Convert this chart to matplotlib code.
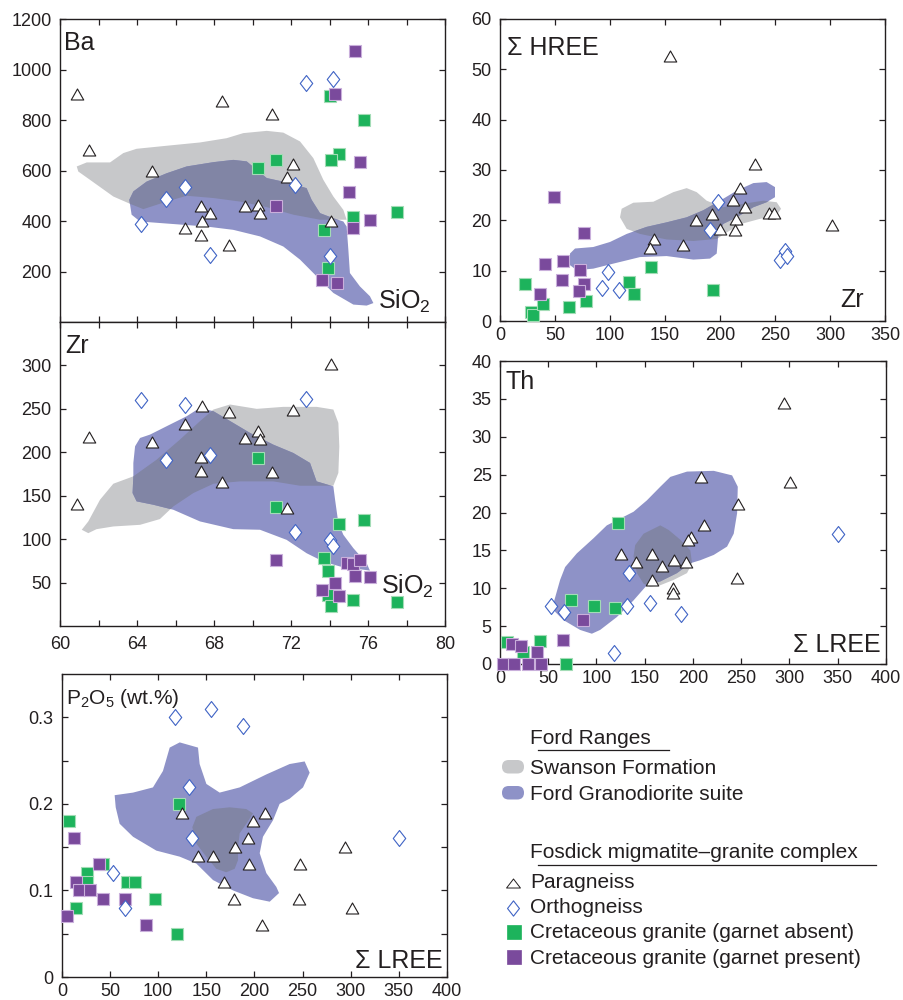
import matplotlib
matplotlib.use('Agg')
import matplotlib.pyplot as plt
from matplotlib.patches import Polygon, FancyBboxPatch
from matplotlib.lines import Line2D
from matplotlib.path import Path

plt.rcParams['font.family'] = ['Liberation Sans', 'DejaVu Sans']
plt.rcParams['mathtext.fontset'] = 'custom'
plt.rcParams['mathtext.rm'] = 'Liberation Sans'
plt.rcParams['mathtext.it'] = 'Liberation Sans'

GREY = '#c7c8ca'
BLUE = '#8e92c7'
OVERLAP = '#8185a5'
GREEN = '#1db35c'
GREEN_EDGE = '#a3dcb6'
PURPLE = '#7a4a9c'
PURPLE_EDGE = '#c9afdb'
ORTHO_EDGE = '#3f63c5'
INK = '#231f20'

# ---------------------------------------------------------------- Ba vs SiO2
ba_para_x = [60.9, 61.5, 64.8, 68.4, 71.0, 72.1, 71.8, 67.3, 67.8, 67.4, 66.5, 67.3, 68.8, 69.6, 70.3, 70.4, 74.1]
ba_para_y = [902, 683, 599, 877, 823, 626, 574, 458, 430, 401, 373, 344, 306, 459, 462, 430, 401]
ba_ortho_x = [64.2, 65.5, 66.5, 67.8, 72.8, 74.2, 72.2, 74.0]
ba_ortho_y = [388, 487, 533, 266, 946, 963, 543, 260]
ba_gabs_x = [74.0, 75.8, 74.5, 74.1, 71.2, 70.3, 75.2, 77.5, 73.7, 73.9]
ba_gabs_y = [897, 800, 665, 641, 640, 608, 415, 434, 365, 212]
ba_gpres_x = [75.3, 74.3, 75.6, 75.0, 71.2, 76.1, 75.2, 73.6, 74.4]
ba_gpres_y = [1075, 903, 632, 516, 458, 402, 371, 165, 154]

ba_swanson_x = [60.87, 61.39, 62.60, 63.29, 63.98, 65.54, 67.27, 68.66, 69.52, 70.74, 71.60, 72.47, 73.16,
                73.68, 74.20, 74.72, 74.89, 73.51, 72.12, 70.74, 69.35, 67.97, 66.58, 65.54, 64.33, 63.64,
                62.77, 61.56, 60.95]
ba_swanson_y = [616, 632, 632, 669, 686, 698, 711, 728, 748, 757, 750, 715, 649,
                563, 497, 444, 405, 405, 425, 455, 477, 491, 500, 477, 447, 468,
                497, 563, 596]
ba_ford_x = [63.60, 63.81, 64.50, 65.54, 66.58, 67.97, 69.00, 69.70, 70.22, 70.74, 71.95, 72.81, 73.07,
             73.51, 74.20, 74.72, 74.89, 74.98, 75.06, 75.58, 76.10, 76.28, 75.93, 75.24, 74.20, 73.33,
             72.47, 71.60, 70.39, 69.00, 67.62, 66.41, 65.19, 64.16, 63.72]
ba_ford_y = [484, 517, 556, 589, 616, 633, 642, 636, 603, 570, 550, 530, 484,
             431, 411, 398, 378, 286, 194, 141, 102, 75, 65, 69, 115, 181,
             247, 299, 339, 365, 378, 385, 392, 398, 425]

# ---------------------------------------------------------------- Zr vs SiO2
zr_para_x = [60.9, 61.5, 64.8, 66.5, 67.4, 68.8, 67.3, 67.3, 68.4, 69.6, 70.3, 70.4, 71.0, 72.1, 71.8, 74.1]
zr_para_y = [140, 218, 212, 232, 253, 246, 194, 178, 166, 216, 224, 215, 177, 249, 136, 302]
zr_ortho_x = [64.2, 66.5, 65.5, 67.8, 72.8, 72.2, 74.0, 74.2]
zr_ortho_y = [260, 255, 191, 197, 261, 108, 99, 92]
zr_gabs_x = [70.3, 71.2, 74.5, 75.8, 73.7, 73.9, 73.9, 74.1, 75.2, 77.5]
zr_gabs_y = [193, 137, 117, 122, 78, 63, 36, 23, 30, 28]
zr_gpres_x = [71.2, 74.9, 75.2, 75.6, 75.3, 76.1, 74.3, 73.6, 74.5]
zr_gpres_y = [76, 73, 71, 76, 57, 56, 49, 41, 35]

zr_swanson_x = [61.13, 61.47, 62.08, 62.77, 63.81, 65.02, 66.23, 67.27, 67.97, 68.83, 70.22, 71.60, 73.33,
                74.20, 74.46, 74.51, 74.46, 74.20, 72.47, 71.08, 69.35, 67.97, 66.93, 65.89, 65.19, 64.16,
                62.77, 61.90, 61.47]
zr_swanson_y = [110.8, 120.4, 145.4, 163.8, 172.3, 191.5, 214.6, 235.8, 249.2, 255.0, 250.0, 252.3, 252.3,
                249.2, 233.8, 206.9, 176.2, 161.5, 161.5, 166.5, 166.5, 163.8, 153.1, 137.7, 123.1, 116.5,
                114.6, 111.5, 106.9]
zr_ford_x = [63.81, 63.77, 63.98, 64.85, 65.89, 67.27, 69.00, 70.39, 71.77, 72.81, 73.68, 74.55, 76.10,
             75.93, 75.24, 74.72, 74.46, 74.29, 74.20, 73.33, 72.99, 72.12, 71.08, 69.87, 69.00, 67.97,
             67.27, 66.58, 65.54, 64.68, 64.16, 63.90, 63.81]
zr_ford_y = [172.3, 153.1, 143.5, 139.6, 133.8, 120.4, 111.5, 110.8, 99.2, 83.8, 74.2, 68.5, 63.8,
             72.3, 89.6, 105.0, 118.5, 145.4, 160.8, 166.5, 187.7, 199.2, 208.8, 222.3, 233.8, 247.3,
             251.2, 241.5, 230.0, 220.4, 216.5, 206.9, 187.7]

# ---------------------------------------------------------------- HREE vs Zr
hr_para_x = [155, 232, 218, 212, 223, 245, 249, 193, 178, 215, 200, 214, 140, 136, 166, 302]
hr_para_y = [52.6, 31.2, 26.4, 24.1, 22.6, 21.5, 21.5, 21.3, 20.1, 20.2, 18.3, 18.0, 16.3, 14.5, 15.0, 19.1]
hr_ortho_x = [198, 191, 98, 93, 108, 255, 259, 261]
hr_ortho_y = [23.7, 18.0, 9.8, 6.5, 6.1, 12.2, 13.9, 12.9]
hr_gabs_x = [23, 28, 30, 39, 63, 78, 117, 122, 137, 194]
hr_gabs_y = [7.4, 1.8, 1.1, 3.4, 2.7, 4.0, 7.8, 5.3, 10.7, 6.1]
hr_gpres_x = [49, 76, 41, 57, 56, 73, 76, 72, 36]
hr_gpres_y = [24.6, 17.5, 11.4, 11.9, 8.1, 10.2, 7.4, 6.0, 5.3]

hr_swanson_x = [109.1, 110.6, 121.2, 139.4, 157.6, 169.7, 178.8, 187.9, 203.0, 221.2, 239.4, 251.5, 255.5,
                251.5, 236.4, 221.2, 209.1, 197.0, 175.8, 151.5, 127.3, 115.2]
hr_swanson_y = [20.6, 22.3, 23.5, 23.7, 25.6, 26.4, 25.6, 23.9, 22.6, 23.3, 23.9, 23.6, 22.3,
                21.0, 20.3, 19.4, 18.0, 16.3, 15.9, 16.2, 17.3, 18.3]
hr_ford_x = [63.6, 68.2, 84.8, 100.0, 115.2, 133.3, 151.5, 169.7, 184.8, 200.0, 215.2, 230.3, 242.4,
             250.0, 250.0, 242.4, 230.3, 215.2, 203.0, 198.5, 197.0, 190.9, 175.8, 151.5, 127.3, 103.0,
             84.8, 69.7, 63.6]
hr_ford_y = [13.4, 14.4, 14.7, 15.7, 17.3, 18.7, 19.6, 20.6, 22.0, 23.9, 25.9, 27.4, 27.6,
             26.6, 24.6, 23.6, 22.6, 20.6, 19.3, 17.3, 13.4, 12.4, 12.2, 12.9, 12.7, 11.4,
             10.4, 10.1, 11.1]

# ---------------------------------------------------------------- Th vs LREE
th_para_x = [294, 301, 208, 247, 211, 198, 195, 125, 157, 141, 168, 180, 193, 157, 179, 179, 246]
th_para_y = [34.4, 24.0, 24.7, 21.1, 18.3, 16.8, 16.4, 14.5, 14.5, 13.4, 12.9, 13.7, 13.4, 11.1, 10.0, 9.4, 11.3]
th_ortho_x = [350, 134, 53, 66, 132, 155, 188, 118]
th_ortho_y = [17.1, 12.0, 7.7, 6.8, 7.7, 8.0, 6.6, 1.5]
th_gabs_x = [122, 74, 97, 119, 7, 41, 24, 68]
th_gabs_y = [18.6, 8.4, 7.7, 7.4, 2.9, 3.1, 1.6, 0]
th_gpres_x = [86, 65, 12, 22, 38, 3.5, 14.5, 29, 43]
th_gpres_y = [5.8, 3.2, 2.6, 2.4, 1.6, 0, 0, 0, 0]

th_swanson_x = [138.4, 140.1, 148.8, 166.1, 174.7, 186.9, 197.2, 199.0, 193.8, 179.9, 166.1, 155.7, 148.8, 141.9]
th_swanson_y = [14.2, 15.7, 17.2, 18.3, 17.7, 16.4, 15.0, 13.3, 12.0, 11.1, 10.4, 10.2, 10.6, 12.0]
th_ford_x = [55.4, 62.3, 67.5, 79.6, 96.9, 110.7, 124.6, 138.4, 152.2, 166.1, 176.5, 193.8, 221.5,
             240.5, 246.4, 245.7, 242.2, 235.3, 221.5, 207.6, 197.2, 183.4, 166.1, 152.2, 138.4, 121.1,
             103.8, 95.2, 83.0, 65.7, 57.1]
th_ford_y = [8.0, 11.1, 12.8, 14.6, 16.6, 18.3, 19.2, 20.1, 21.6, 23.4, 24.7, 25.4, 25.5,
             24.9, 23.4, 19.9, 17.2, 15.5, 14.4, 13.7, 13.3, 12.0, 10.9, 10.4, 8.4, 6.2,
             4.5, 4.0, 4.5, 5.8, 6.9]

# ---------------------------------------------------------------- P2O5 vs LREE
p_para_x = [125, 211, 198, 193, 180, 141, 157, 194, 168, 179, 208, 247, 246, 294, 301]
p_para_y = [0.19, 0.19, 0.18, 0.16, 0.15, 0.14, 0.14, 0.13, 0.11, 0.09, 0.06, 0.13, 0.09, 0.15, 0.08]
p_ortho_x = [117, 155, 188, 132, 135, 53, 65, 350]
p_ortho_y = [0.30, 0.31, 0.29, 0.22, 0.16, 0.12, 0.08, 0.16]
p_gabs_x = [122, 7, 26, 26, 43, 68, 76, 97, 15, 119]
p_gabs_y = [0.20, 0.18, 0.12, 0.11, 0.13, 0.11, 0.11, 0.09, 0.08, 0.05]
p_gpres_x = [12, 38, 15, 18, 29, 43, 65, 5.5, 87]
p_gpres_y = [0.16, 0.13, 0.11, 0.10, 0.10, 0.09, 0.09, 0.07, 0.06]

p_swanson_x = [135.4, 139.6, 156.9, 174.2, 191.5, 198.4, 191.5, 184.6, 182.9, 182.9, 179.4, 170.7, 160.3,
               149.9, 139.6]
p_swanson_y = [0.173, 0.185, 0.194, 0.196, 0.194, 0.189, 0.177, 0.166, 0.150, 0.135, 0.125, 0.121, 0.125,
               0.139, 0.154]
p_ford_x = [54.7, 73.8, 94.5, 104.9, 111.9, 122.3, 141.3, 143.0, 150.0, 163.8, 184.6, 212.3, 236.5,
            252.1, 257.3, 250.4, 236.5, 226.1, 219.2, 208.8, 205.4, 212.3, 222.7, 225.5, 215.8, 198.4,
            177.7, 156.9, 139.6, 122.3, 98.0, 73.8, 59.9, 55.8]
p_ford_y = [0.210, 0.213, 0.219, 0.238, 0.265, 0.271, 0.265, 0.246, 0.223, 0.213, 0.219, 0.234, 0.246,
            0.249, 0.236, 0.219, 0.206, 0.200, 0.181, 0.162, 0.143, 0.120, 0.104, 0.097, 0.087, 0.091,
            0.100, 0.112, 0.131, 0.139, 0.146, 0.162, 0.177, 0.196]

# closed outlines for the open-symbol markers
TRI = Path([(0, 0.88), (-1, -0.88), (1, -0.88), (0, 0.88)], closed=True)
FLAT_TRI = Path([(0, 0.65), (-1, -0.65), (1, -0.65), (0, 0.65)], closed=True)
DIAMOND = Path([(0, 1), (0.78, 0), (0, -1), (-0.78, 0), (0, 1)], closed=True)


def fields(ax, swanson, ford):
    ax.add_patch(Polygon(list(zip(*swanson)), closed=True, fc=GREY, ec='none', zorder=1))
    blue = Polygon(list(zip(*ford)), closed=True, fc=BLUE, ec='none', zorder=2)
    ax.add_patch(blue)
    both = Polygon(list(zip(*swanson)), closed=True, fc=OVERLAP, ec='none', zorder=3)
    ax.add_patch(both)
    both.set_clip_path(blue)


def samples(ax, para, ortho, gabs, gpres):
    ax.plot(*gabs, ls='none', marker='s', ms=9, mfc=GREEN, mec=GREEN_EDGE, mew=0.8, zorder=5, clip_on=False)
    ax.plot(*gpres, ls='none', marker='s', ms=9, mfc=PURPLE, mec=PURPLE_EDGE, mew=0.8, zorder=6, clip_on=False)
    ax.plot(*para, ls='none', marker=TRI, ms=9, mfc='white', mec=INK, mew=0.8, zorder=7, clip_on=False)
    ax.plot(*ortho, ls='none', marker=DIAMOND, ms=11.5, mfc='white', mec=ORTHO_EDGE, mew=0.8, zorder=8,
            clip_on=False)


def frame(ax, xlim, ylim, xticks, yticks, xlabels=None, ylabels=None, xpad=4):
    ax.set_xlim(*xlim)
    ax.set_ylim(*ylim)
    ax.set_xticks(xticks)
    ax.set_yticks(yticks)
    if xlabels is not None:
        ax.set_xticklabels(xlabels)
    if ylabels is not None:
        ax.set_yticklabels(ylabels)
    ax.tick_params(direction='in', top=True, right=True, length=4.5, width=0.9,
                   labelsize=13, labelcolor=INK, color=INK)
    ax.tick_params(axis='x', pad=xpad)
    ax.tick_params(axis='y', pad=6)
    for s in ax.spines.values():
        s.set_linewidth(1.0)
        s.set_color(INK)


def tag(ax, x, y, s, ha='left', size=18):
    ax.text(x, y, s, transform=ax.transAxes, ha=ha, va='baseline', fontsize=size, color=INK, zorder=10)


fig = plt.figure(figsize=(9.04, 10), dpi=100)

W, H = 904, 1000


def box(l, t, r, b):
    return [l / W, 1 - b / H, (r - l) / W, (b - t) / H]


sio2_ticks = list(range(60, 81, 2))
sio2_labels = [str(v) if v % 4 == 0 else '' for v in sio2_ticks]

# Ba vs SiO2
ax1 = fig.add_axes(box(60, 19, 445, 322))
fields(ax1, (ba_swanson_x, ba_swanson_y), (ba_ford_x, ba_ford_y))
samples(ax1, (ba_para_x, ba_para_y), (ba_ortho_x, ba_ortho_y), (ba_gabs_x, ba_gabs_y), (ba_gpres_x, ba_gpres_y))
frame(ax1, (60, 80), (0, 1200), sio2_ticks, range(200, 1201, 200), xlabels=['' for _ in sio2_ticks])
tag(ax1, 0.01, 0.898, 'Ba')
tag(ax1, 0.963, 0.045, r'SiO$_2$', ha='right')

# Zr vs SiO2
ax3 = fig.add_axes(box(60, 322, 445, 626))
fields(ax3, (zr_swanson_x, zr_swanson_y), (zr_ford_x, zr_ford_y))
samples(ax3, (zr_para_x, zr_para_y), (zr_ortho_x, zr_ortho_y), (zr_gabs_x, zr_gabs_y), (zr_gpres_x, zr_gpres_y))
frame(ax3, (60, 80), (0, 350), sio2_ticks, range(50, 301, 50), xlabels=sio2_labels, xpad=7)
tag(ax3, 0.013, 0.899, 'Zr')
tag(ax3, 0.97, 0.105, r'SiO$_2$', ha='right')

# HREE vs Zr
ax2 = fig.add_axes(box(500, 19, 885, 321))
fields(ax2, (hr_swanson_x, hr_swanson_y), (hr_ford_x, hr_ford_y))
samples(ax2, (hr_para_x, hr_para_y), (hr_ortho_x, hr_ortho_y), (hr_gabs_x, hr_gabs_y), (hr_gpres_x, hr_gpres_y))
frame(ax2, (0, 350), (0, 60), range(0, 351, 50), range(0, 61, 10))
tag(ax2, 0.017, 0.881, 'Σ HREE')
tag(ax2, 0.945, 0.045, 'Zr', ha='right')

# Th vs LREE
ax4 = fig.add_axes(box(500, 361, 886, 664))
fields(ax4, (th_swanson_x, th_swanson_y), (th_ford_x, th_ford_y))
samples(ax4, (th_para_x, th_para_y), (th_ortho_x, th_ortho_y), (th_gabs_x, th_gabs_y), (th_gpres_x, th_gpres_y))
frame(ax4, (0, 400), (0, 40), range(0, 401, 50), range(0, 41, 5))
tag(ax4, 0.013, 0.909, 'Th')
tag(ax4, 0.987, 0.039, 'Σ LREE', ha='right')

# P2O5 vs LREE
ax5 = fig.add_axes(box(62, 674, 447, 977))
fields(ax5, (p_swanson_x, p_swanson_y), (p_ford_x, p_ford_y))
samples(ax5, (p_para_x, p_para_y), (p_ortho_x, p_ortho_y), (p_gabs_x, p_gabs_y), (p_gpres_x, p_gpres_y))
p_ticks = [0, 0.05, 0.1, 0.15, 0.2, 0.25, 0.3]
frame(ax5, (0, 400), (0, 0.35), range(0, 401, 50), p_ticks,
      ylabels=['0', '', '0.1', '', '0.2', '', '0.3'])
tag(ax5, 0.01, 0.901, r'P$_2$O$_5$ (wt.%)', size=15)
tag(ax5, 0.989, 0.029, 'Σ LREE', ha='right')

# key, laid out in pixel units
lax = fig.add_axes([0, 0, 1, 1])
lax.set_xlim(0, W)
lax.set_ylim(H, 0)
lax.axis('off')

key_size = 15
lax.text(530, 744, 'Ford Ranges', fontsize=key_size, color=INK, va='baseline')
lax.add_line(Line2D([538, 669], [750, 750], color=INK, lw=0.9))
lax.add_patch(FancyBboxPatch((502, 760), 22, 13.5, boxstyle='round,pad=0,rounding_size=6.7', fc=GREY, ec='none'))
lax.text(530, 774, 'Swanson Formation', fontsize=key_size, color=INK, va='baseline')
lax.add_patch(FancyBboxPatch((502, 786), 22, 13.5, boxstyle='round,pad=0,rounding_size=6.7', fc=BLUE, ec='none'))
lax.text(530, 799.5, 'Ford Granodiorite suite', fontsize=key_size, color=INK, va='baseline')

lax.text(530, 858.5, 'Fosdick migmatite–granite complex', fontsize=key_size, color=INK, va='baseline')
lax.add_line(Line2D([538, 876], [865, 865], color=INK, lw=0.9))
lax.plot([513.5], [883], ls='none', marker=FLAT_TRI, ms=10, mfc='white', mec=INK, mew=0.7)
lax.text(530, 888, 'Paragneiss', fontsize=key_size, color=INK, va='baseline')
lax.plot([513.5], [907.5], ls='none', marker=DIAMOND, ms=11, mfc='white', mec=ORTHO_EDGE, mew=0.8)
lax.text(530, 913, 'Orthogneiss', fontsize=key_size, color=INK, va='baseline')
lax.plot([514], [931.5], ls='none', marker='s', ms=10, mfc=GREEN, mec=GREEN, mew=0.5)
lax.text(530, 938, 'Cretaceous granite (garnet absent)', fontsize=key_size, color=INK, va='baseline')
lax.plot([514], [957], ls='none', marker='s', ms=9.5, mfc=PURPLE, mec=PURPLE, mew=0.5)
lax.text(530, 963.5, 'Cretaceous granite (garnet present)', fontsize=key_size, color=INK, va='baseline')

fig.savefig('out.png', dpi=100)
